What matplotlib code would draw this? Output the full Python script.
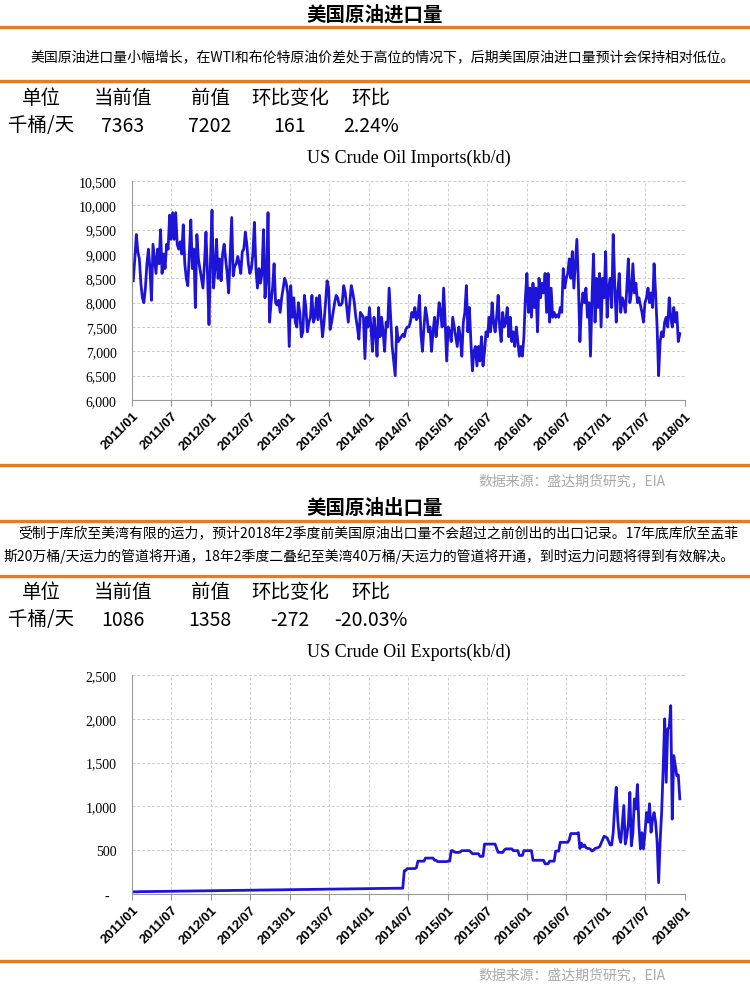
import numpy as np
import pandas as pd
import matplotlib
matplotlib.use('Agg')
import matplotlib.pyplot as plt
import matplotlib.dates as mdates
from matplotlib.lines import Line2D
from matplotlib.ticker import FuncFormatter

plt.rcParams['font.family'] = ['Noto Sans CJK SC', 'DejaVu Sans']

# weekly US crude oil imports, kb/d
imp_2011 = [8450, 8900, 9400, 9050, 8900, 8400, 8100, 8000, 8300, 8800, 9100, 8700, 8050,
            9200, 8900, 8600, 9100, 8800, 9500, 8600, 9000, 8700, 9200, 9100, 9800, 9300,
            9850, 9300, 9850, 9200, 9100, 9250, 9000, 9600, 8800, 8500, 8350, 9000, 9700,
            8700, 9100, 7900, 9400, 8900, 8700, 8500, 8300, 8800, 9450, 8600, 7550, 8900]
imp_2012 = [9900, 8300, 8700, 9300, 8500, 8900, 8450, 9000, 9200, 8900, 8600, 8200, 9000,
            9750, 8550, 8750, 8800, 8950, 8800, 8600, 9050, 9100, 9450, 9200, 8800, 8600,
            8700, 9000, 9650, 8700, 8300, 8700, 8400, 8600, 9500, 8100, 8500, 9850, 7600,
            8000, 8300, 8800, 8000, 7950, 8050, 7800, 8100, 8300, 8500, 8400, 8200, 7100]
imp_2013 = [8350, 7700, 8100, 7600, 7500, 8000, 7800, 7300, 7400, 8150, 7900, 7400, 7600,
            7700, 8150, 7600, 7700, 8100, 7650, 8150, 7700, 7300, 7600, 8000, 8450, 8300,
            7450, 7600, 7800, 8000, 8150, 8100, 7950, 7950, 8000, 8350, 8200, 7900, 7600,
            8000, 8350, 8200, 8000, 7700, 7500, 7250, 7800, 7750, 7700, 6850, 7700, 7500]
imp_2014 = [7900, 7500, 7000, 7700, 7400, 6900, 7900, 7300, 7700, 7400, 7000, 7600, 7500,
            8300, 7700, 7100, 6800, 6500, 7500, 7200, 7250, 7300, 7350, 7300, 7450, 7500,
            7500, 7600, 7800, 7700, 7900, 7650, 7700, 8150, 7350, 7000, 7500, 7900, 7700,
            7400, 7500, 7000, 7400, 7700, 7300, 7600, 8000, 7800, 7500, 8300, 7600, 6800]
imp_2015 = [7500, 7400, 7200, 7700, 7500, 7300, 7100, 7500, 7300, 6900, 7600, 7800, 8350,
            7400, 7900, 7200, 6600, 7000, 7100, 6700, 7100, 6800, 7300, 6700, 7000, 7400,
            7300, 7700, 7400, 8000, 7600, 7400, 7700, 8150, 7500, 7200, 7800, 7500, 7600,
            7900, 7300, 7700, 7200, 7400, 7100, 7500, 7200, 6900, 7100, 6900, 7300, 8100]
imp_2016 = [8600, 7800, 8300, 7700, 8400, 7900, 8300, 7400, 8500, 8100, 8400, 8200, 8600,
            7800, 8600, 7600, 8300, 7700, 7800, 7700, 7750, 7700, 7900, 7800, 8700, 8300,
            8500, 8600, 8900, 8500, 9050, 8300, 8800, 9300, 8400, 7200, 7900, 8200, 8000,
            8300, 7700, 8000, 6900, 8100, 9000, 7600, 8500, 7900, 8600, 7500, 8500, 8100]
imp_2017 = [9050, 7700, 8300, 8500, 7900, 9400, 8400, 7600, 8200, 8600, 7800, 8100, 8000,
            7800, 8300, 8900, 8000, 8200, 8800, 8200, 8400, 8000, 8100, 7950, 7800, 7600,
            8000, 8100, 8300, 8000, 8200, 7900, 8800, 8200, 7500, 6500, 7200, 7400, 7300,
            7600, 7700, 7500, 8100, 7700, 7500, 7900, 7600, 7800, 7202, 7363]

# weekly US crude oil exports, kb/d
exp_2011 = [25, 25, 25, 25, 27, 27, 27, 27, 28, 28, 28, 28, 28, 29, 29, 29, 29, 30, 30, 30,
            30, 30, 31, 31, 31, 31, 32, 32, 32, 32, 33, 33, 33, 33, 33, 34, 34, 34, 34, 35,
            35, 35, 35, 36, 36, 36, 36, 36, 37, 37, 37, 37]
exp_2012 = [38, 38, 38, 38, 39, 39, 39, 39, 40, 40, 40, 40, 40, 41, 41, 41, 41, 42, 42, 42,
            42, 42, 43, 43, 43, 43, 44, 44, 44, 44, 45, 45, 45, 45, 45, 46, 46, 46, 46, 47,
            47, 47, 47, 48, 48, 48, 48, 48, 49, 49, 49, 49]
exp_2013 = [50, 50, 50, 50, 51, 51, 51, 51, 52, 52, 52, 52, 52, 53, 53, 53, 53, 54, 54, 54,
            54, 54, 55, 55, 55, 55, 56, 56, 56, 56, 57, 57, 57, 57, 57, 58, 58, 58, 58, 59,
            59, 59, 59, 60, 60, 60, 60, 60, 61, 61, 61, 61]
exp_2014 = [62, 62, 62, 62, 63, 63, 63, 63, 64, 64, 64, 64, 64, 65, 65, 65, 65, 66, 66, 66,
            66, 66, 66, 266, 270, 290,
            290, 290, 290, 290, 290, 300, 375, 375, 375, 375, 375, 410, 410, 410, 410, 410,
            410, 385, 385, 370, 370, 370, 370, 370, 370, 370]
exp_2015 = [375, 375, 495, 495, 480, 475, 475, 475, 480, 495, 495, 495, 495, 495, 495, 480,
            460, 460, 460, 460, 460, 430, 430, 430, 570, 570,
            570, 570, 570, 570, 570, 570, 520, 475, 475, 475, 475, 500, 515, 515, 515, 515,
            515, 495, 495, 495, 495, 440, 440, 440, 495, 495]
exp_2016 = [495, 495, 495, 495, 385, 385, 385, 385, 385, 385, 385, 385, 345, 345, 345, 375,
            375, 375, 375, 490, 490, 490, 590, 590, 590, 590,
            590, 590, 620, 690, 690, 690, 690, 690, 700, 520, 580, 540, 560, 530, 520, 520,
            510, 490, 500, 520, 525, 530, 540, 580, 620, 660]
exp_2017 = [650, 640, 600, 560, 560, 700, 1000, 1218, 850, 650, 590, 800, 1010, 570, 665,
            800, 1160, 550, 700, 1085, 970, 1250, 780, 515, 700, 515,
            700, 930, 820, 1030, 705, 850, 930, 820, 600, 130, 600, 930, 1427, 2000, 1275,
            1885, 1900, 2150, 855, 1580, 1470, 1350, 1358, 1086]

imports = imp_2011 + imp_2012 + imp_2013 + imp_2014 + imp_2015 + imp_2016 + imp_2017
exports = exp_2011 + exp_2012 + exp_2013 + exp_2014 + exp_2015 + exp_2016 + exp_2017

dates_imp = pd.date_range('2011-01-07', periods=len(imports), freq='W-FRI')
dates_exp = pd.date_range('2011-01-07', periods=len(exports), freq='W-FRI')

tick_dates = pd.date_range('2011-01-01', '2018-01-01', freq='6MS')

W, H = 750, 987
ORANGE = '#e57c25'
BLUE = '#1e14d8'


def fx(x):
    return x / W


def fy(y):
    return 1 - y / H


fig = plt.figure(figsize=(7.5, 9.87), dpi=100)

# orange separators
for y in [28, 82, 466, 522, 577, 962]:
    fig.add_artist(Line2D([0, 1], [fy(y), fy(y)], color=ORANGE, lw=2.4))

# headers
fig.text(fx(375), fy(15), '美国原油进口量', ha='center', va='center', fontsize=14, fontweight='bold')
fig.text(fx(375), fy(508), '美国原油出口量', ha='center', va='center', fontsize=14, fontweight='bold')

fig.text(fx(30), fy(57), '美国原油进口量小幅增长，在WTI和布伦特原油价差处于高位的情况下，后期美国原油进口量预计会保持相对低位。',
         ha='left', va='center', fontsize=10)
fig.text(fx(18), fy(533), '受制于库欣至美湾有限的运力，预计2018年2季度前美国原油出口量不会超过之前创出的出口记录。17年底库欣至孟菲',
         ha='left', va='center', fontsize=10)
fig.text(fx(3), fy(556), '斯20万桶/天运力的管道将开通，18年2季度二叠纪至美湾40万桶/天运力的管道将开通，到时运力问题将得到有效解决。',
         ha='left', va='center', fontsize=10)

# small tables
cols_x = [41, 123, 210, 290, 371]
head = ['单位', '当前值', '前值', '环比变化', '环比']
row_imp = ['千桶/天', '7363', '7202', '161', '2.24%']
row_exp = ['千桶/天', '1086', '1358', '-272', '-20.03%']
for x, h, a, b in zip(cols_x, head, row_imp, row_exp):
    fig.text(fx(x), fy(99), h, ha='center', va='center', fontsize=14)
    fig.text(fx(x), fy(126), a, ha='center', va='center', fontsize=14)
    fig.text(fx(x), fy(593), h, ha='center', va='center', fontsize=14)
    fig.text(fx(x), fy(620), b, ha='center', va='center', fontsize=14)

# sources
for y in [481, 975]:
    fig.text(fx(572), fy(y), '数据来源：盛达期货研究，EIA', ha='center', va='center',
             fontsize=10, color='#aaaaaa', style='italic')


def style_axes(ax, title, ylim, yticks, zero_dash=False):
    ax.set_xlim(pd.Timestamp('2011-01-01'), pd.Timestamp('2018-01-01'))
    ax.set_ylim(*ylim)
    ax.set_yticks(yticks)
    ax.set_xticks(tick_dates)
    ax.xaxis.set_major_formatter(mdates.DateFormatter('%Y/%m'))
    if zero_dash:
        ax.yaxis.set_major_formatter(FuncFormatter(lambda v, p: '-  ' if v == 0 else f'{v:,.0f}'))
    else:
        ax.yaxis.set_major_formatter(FuncFormatter(lambda v, p: f'{v:,.0f}'))
    for lab in ax.get_yticklabels():
        lab.set_family('Liberation Serif')
        lab.set_fontsize(10)
    for lab in ax.get_xticklabels():
        lab.set_family('Liberation Sans')
        lab.set_fontweight('bold')
        lab.set_fontsize(9.5)
        lab.set_rotation(45)
        lab.set_ha('right')
        lab.set_rotation_mode('anchor')
    ax.tick_params(axis='y', length=0, pad=11)
    ax.tick_params(axis='x', length=4, color='#999999', pad=3)
    ax.grid(True, color='#cccccc', linestyle=(0, (3, 2)), lw=0.7)
    ax.set_axisbelow(True)
    for s in ['top', 'right']:
        ax.spines[s].set_visible(False)
    for s in ['left', 'bottom']:
        ax.spines[s].set_color('#999999')
        ax.spines[s].set_linewidth(0.8)
    ax.set_title(title, fontfamily='Liberation Serif', fontsize=13, pad=14)


ax1 = fig.add_axes([fx(132), fy(401), fx(685) - fx(132), fy(182) - fy(401)])
ax1.plot(dates_imp, imports, color=BLUE, lw=2.0)
style_axes(ax1, 'US Crude Oil Imports(kb/d)', (6000, 10500), np.arange(6000, 10501, 500))

ax2 = fig.add_axes([fx(132), fy(895), fx(685) - fx(132), fy(676) - fy(895)])
ax2.plot(dates_exp, exports, color=BLUE, lw=2.0)
style_axes(ax2, 'US Crude Oil Exports(kb/d)', (0, 2500), np.arange(0, 2501, 500), zero_dash=True)

fig.savefig('out.png', dpi=100)
